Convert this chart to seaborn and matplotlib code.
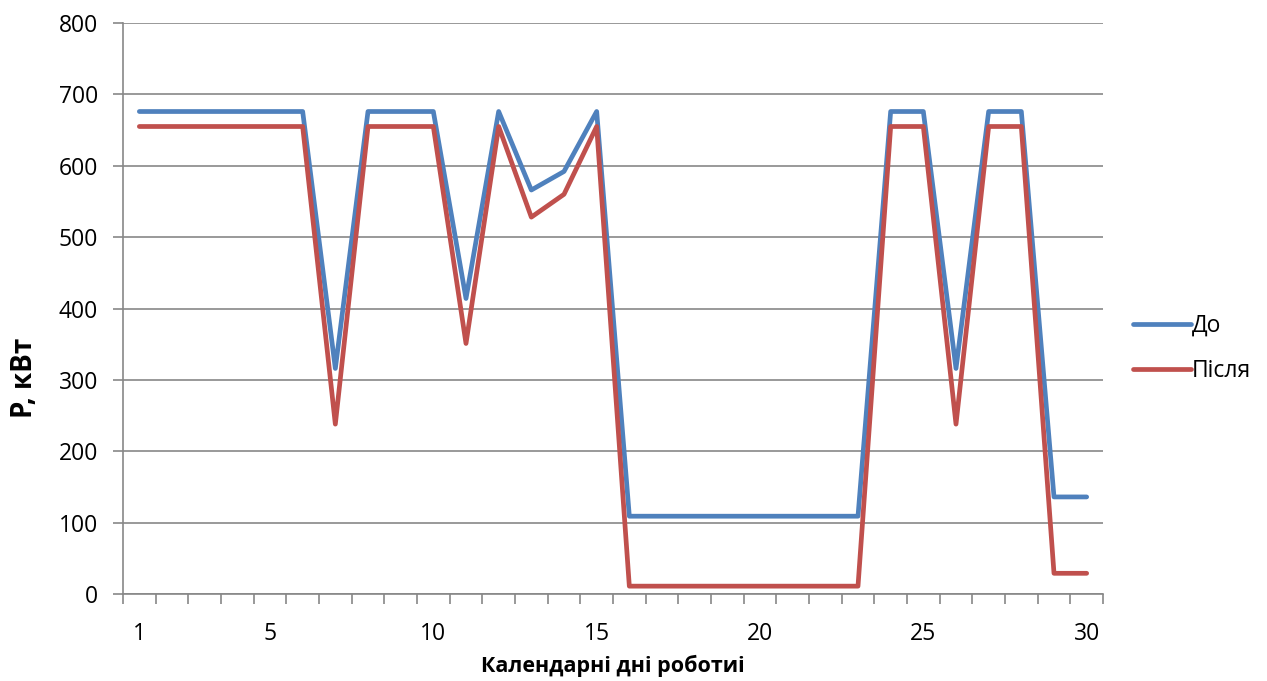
import numpy as np
import pandas as pd
import matplotlib
matplotlib.use("Agg")
import matplotlib.pyplot as plt
import seaborn as sns
from matplotlib.ticker import FixedLocator

days = list(range(1, 31))
do_vals = [676, 676, 676, 676, 676, 676, 316, 676, 676, 676,
           414, 676, 566, 592, 676, 109, 109, 109, 109, 109,
           109, 109, 109, 676, 676, 316, 676, 676, 136, 136]
pislia_vals = [655, 655, 655, 655, 655, 655, 238, 655, 655, 655,
               351, 655, 528, 560, 655, 11, 11, 11, 11, 11,
               11, 11, 11, 655, 655, 238, 655, 655, 29, 29]
series_names = ["До", "Після"]
x_tick_labels = [1, 5, 10, 15, 20, 25, 30]
y_ticks = [0, 100, 200, 300, 400, 500, 600, 700, 800]

df = pd.DataFrame({
    "day": days * 2,
    "value": do_vals + pislia_vals,
    "series": [series_names[0]] * len(days) + [series_names[1]] * len(days),
})

sns.set_theme(style="white")
plt.rcParams["font.family"] = ["Open Sans", "DejaVu Sans"]
plt.rcParams["text.color"] = "black"
plt.rcParams["axes.labelcolor"] = "black"

fig = plt.figure(figsize=(12.67, 6.81), dpi=100)
ax = fig.add_axes([123 / 1267, (681 - 594) / 681, (1103 - 123) / 1267, (594 - 23) / 681])

palette = {"До": "#4F81BD", "Після": "#C0504D"}
sns.lineplot(data=df, x="day", y="value", hue="series", palette=palette,
             linewidth=3.4, ax=ax, legend=True)
for ln in ax.lines:
    ln.set_solid_joinstyle("round")
    ln.set_solid_capstyle("round")

ax.set_xlim(0.5, 30.5)
ax.set_ylim(0, 800)
ax.set_yticks(y_ticks)
ax.set_xticks(x_tick_labels)
ax.set_xticklabels([str(v) for v in x_tick_labels])
ax.xaxis.set_minor_locator(FixedLocator(np.arange(0.5, 31, 1.0)))

grid_col = "#878787"
ax.yaxis.grid(True, color=grid_col, linewidth=1.2)
ax.set_axisbelow(True)
for s in ["top", "right"]:
    ax.spines[s].set_visible(False)
for s in ["left", "bottom"]:
    ax.spines[s].set_color(grid_col)
    ax.spines[s].set_linewidth(1.2)

ax.tick_params(axis="x", which="major", length=0, pad=20, labelsize=16.5, labelcolor="black")
ax.tick_params(axis="x", which="minor", length=7, width=1.2, color=grid_col, direction="out", bottom=True)
ax.tick_params(axis="y", which="major", length=7, width=1.2, color=grid_col, direction="out",
               left=True, labelsize=16.5, pad=11, labelcolor="black")

ax.set_xlabel("Календарні дні роботиі", fontsize=15.5, fontweight="bold")
ax.xaxis.set_label_coords(0.5, -(666 - 594) / 571)
ax.xaxis.label.set_va("center")
ax.set_ylabel("P, кВт", fontsize=20, fontweight="bold")
ax.yaxis.set_label_coords((24 - 123) / 980, (594 - 378) / 571)
ax.yaxis.label.set_va("center")

handles, labels = ax.get_legend_handles_labels()
leg = ax.legend(handles, labels, loc="center left", bbox_to_anchor=(1.01, 0.43),
                frameon=False, fontsize=16.5, handlelength=2.5, handletextpad=0.05,
                labelspacing=0.95)
for h in leg.legend_handles:
    h.set_linewidth(3.4)

fig.savefig("out.png", dpi=100)
